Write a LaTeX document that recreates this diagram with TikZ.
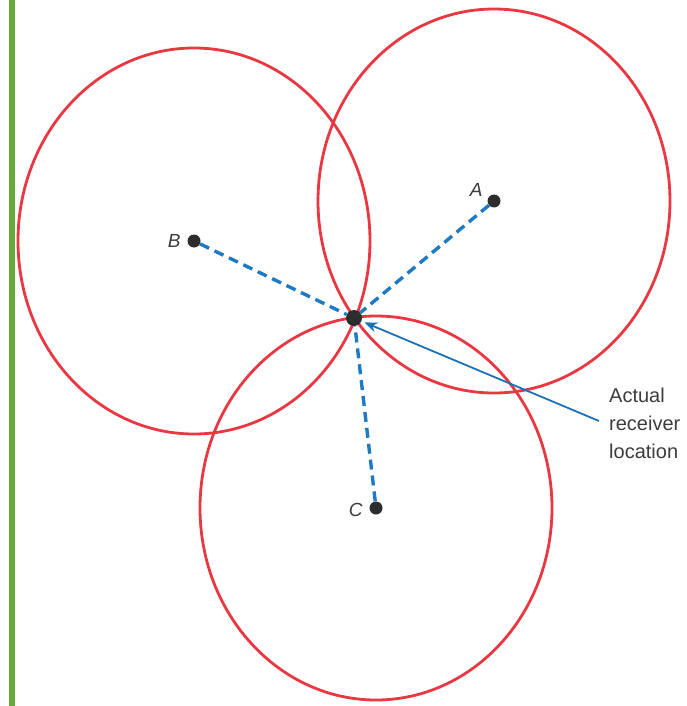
\documentclass[tikz,border=0pt]{standalone}
\usepackage{fontspec}
\setmainfont{Liberation Sans}
\usetikzlibrary{arrows.meta}
\definecolor{ringred}{RGB}{234,56,66}
\definecolor{dashblue}{RGB}{30,122,194}
\definecolor{arrowblue}{RGB}{28,112,180}
\definecolor{barGreen}{RGB}{104,170,58}
\definecolor{dotgray}{RGB}{45,45,45}
\definecolor{txtgray}{RGB}{60,60,60}
\tikzset{
  ring/.style={draw=ringred, line width=2.8pt},
  sat/.style={circle, fill=dotgray, inner sep=0pt, minimum size=13pt},
  rcv/.style={circle, fill=dotgray, inner sep=0pt, minimum size=16pt},
  rangeline/.style={draw=dashblue, line width=3.4pt, dash pattern=on 10pt off 6pt},
  lbl/.style={text=txtgray, font=\fontsize{19}{22}\selectfont\itshape},
  pointer/.style={draw=arrowblue, line width=1.8pt, shorten >=3pt, -{Stealth[length=13pt,width=10pt]}},
  note/.style={text=txtgray, font=\fontsize{20}{28}\selectfont, align=left, anchor=west, inner sep=0pt}
}
\begin{document}
\begin{tikzpicture}[x=1pt,y=-1pt]
\useasboundingbox (0,0) rectangle (687,706);
\fill[barGreen] (9.3,0) rectangle (14.7,706);
% range rings
\draw[ring] (494,201) ellipse [x radius=176pt, y radius=192pt];
\draw[ring] (194,241) ellipse [x radius=176pt, y radius=193pt];
\draw[ring] (376,508) ellipse [x radius=176pt, y radius=192pt];
% points
\node[sat] (A) at (494,201) {};
\node[sat] (B) at (194,241) {};
\node[sat] (C) at (376,508) {};
\node[rcv] (R) at (354,318) {};
\node[lbl, anchor=east] (lA) at (486,190) {A};
\node[lbl, anchor=east] (lB) at (184,241) {B};
\node[lbl, anchor=east] (lC) at (366,510) {C};
% ranges
\draw[rangeline] (A) -- (R);
\draw[rangeline] (B) -- (R);
\draw[rangeline] (C) -- (R);
% annotation
\node[note] (T) at (609,423) {Actual\\receiver\\location};
\coordinate (tail) at (599,421);
\draw[pointer] (tail) -- (R);
\end{tikzpicture}
\end{document}
